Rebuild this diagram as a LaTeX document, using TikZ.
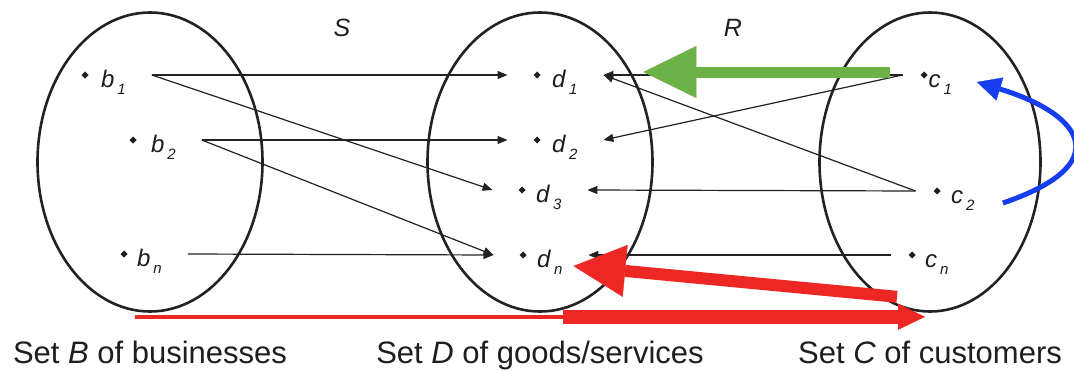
\documentclass[tikz,border=0pt]{standalone}
\usepackage{fontspec}
\setmainfont{Liberation Sans}
\usepackage{graphicx}
\usetikzlibrary{shapes.geometric,arrows.meta}

\definecolor{ink}{HTML}{222222}
\definecolor{txt}{HTML}{1E1E1E}
\definecolor{flowgreen}{RGB}{108,178,72}
\definecolor{flowred}{RGB}{237,40,36}
\definecolor{flowblue}{RGB}{22,62,240}

% small diamond marker, centred 12pt above the baseline
\newcommand\dotmark{\raisebox{9.5pt}{\rotatebox[origin=c]{45}{\rule{5pt}{5pt}}}}
% italic subscript
\newcommand\isub[1]{\kern3pt\raisebox{-7pt}{\fontsize{15}{15}\selectfont\itshape #1}}
% element of a set: marker, gap, letter, index, trailing space
\newcommand\elem[4][0pt]{\dotmark\hspace{#2}\textit{#3}\isub{#4}\hspace{#1}}

\tikzset{
  setell/.style={ellipse, draw=ink, line width=2.6pt, inner sep=0pt,
    minimum height=299pt},
  elem/.style={inner sep=0pt, outer ysep=0pt, text height=24pt, text depth=0pt,
    anchor=west, text=txt, font=\fontsize{24}{28}\selectfont},
  belem/.style={elem, outer xsep=26pt},
  delem/.style={elem, outer xsep=26pt},
  celem/.style={elem, outer xsep=18pt},
  link/.style={draw=ink, line width=1.2pt, -{Triangle[length=10pt,width=8pt]}},
  greenflow/.style={draw=flowgreen, line width=11pt,
    -{Triangle[length=53pt,width=52pt,line width=0.4pt]}},
  redflow/.style={draw=flowred, line width=12pt,
    -{Triangle[length=52pt,width=52pt,line width=0.4pt]}},
  redthin/.style={draw=flowred, line width=3.5pt},
  redbar/.style={draw=flowred, line width=14pt,
    -{Triangle[length=27pt,width=26pt,line width=0.4pt]}},
  blueflow/.style={draw=flowblue, line width=5pt,
    -{Triangle[length=24pt,width=24pt,line width=0.4pt]}},
  rel/.style={text=txt, font=\fontsize{25}{30}\selectfont\itshape},
  caption/.style={anchor=base, text=txt, font=\fontsize{31}{36}\selectfont},
}

\begin{document}
\begin{tikzpicture}[x=1pt,y=-1pt]
  \useasboundingbox[fill=white] (0,0) rectangle (1074,372);

  % the three sets
  \node[setell, minimum width=225pt] (B) at (150,162) {};
  \node[setell, minimum width=225pt] (D) at (540,162) {};
  \node[setell, minimum width=221pt] (C) at (930,162) {};

  % elements
  \node[belem] (b1) at (55.5,75)  {\elem{12.5pt}{b}{1}};
  \node[belem] (b2) at (103.5,140) {\elem{14.5pt}{b}{2}};
  \node[belem] (bn) at (94.5,254) {\elem{9.5pt}{b}{n}};

  \node[delem] (d1) at (507.5,75)  {\elem[4pt]{11.5pt}{d}{1}};
  \node[delem] (d2) at (507.5,140) {\elem[4pt]{11.5pt}{d}{2}};
  \node[delem] (d3) at (492.5,190) {\elem[4pt]{10.5pt}{d}{3}};
  \node[delem] (dn) at (493.5,255) {\elem[4pt]{10.5pt}{d}{n}};

  \node[celem] (c1) at (902.5,75)  {\elem{1pt}{c}{1}};
  \node[celem] (c2) at (915.5,191) {\elem{10.5pt}{c}{2}};
  \node[celem] (cn) at (890.5,255) {\elem{9.5pt}{c}{n}};

  % relation S : B -> D
  \draw[link] (b1.east) -- (d1.west);
  \draw[link] (b1.east) -- (d3.west);
  \draw[link] (b2.east) -- (d2.west);
  \draw[link] (b2.east) -- (dn.west);
  \draw[link] (bn.east) -- (dn.west);

  % relation R : C -> D
  \draw[link] (c1.west) -- (d1.east);
  \draw[link] (c1.west) -- (d2.east);
  \draw[link] (c2.west) -- (d1.east);
  \draw[link] (c2.west) -- (d3.east);
  \draw[link] (cn.west) -- (dn.east);

  % highlighted flows
  \draw[greenflow] ([xshift=-12.5pt,yshift=3pt]c1.west) -- ([xshift=40pt,yshift=3pt]d1.east);
  \draw[redflow] ([xshift=-33pt,yshift=16pt]C.south) -- ([xshift=-15pt,yshift=-11pt]dn.east);
  \draw[redthin] ([xshift=-15pt,yshift=-4pt]B.south) -- ([xshift=23pt,yshift=-4pt]D.south);
  \draw[redbar] ([xshift=23pt,yshift=-4pt]D.south) -- ([xshift=-5pt,yshift=-4pt]C.south);
  \draw[blueflow] ([xshift=10.5pt,yshift=-12pt]c2.east)
    .. controls (1115,165) and (1085,115) .. ([xshift=7pt,yshift=-7pt]c1.east);

  % relation names
  \node[rel] (S) at (342,28) {S};
  \node[rel] (R) at (733,28) {R};

  % set captions
  \node[caption] (capB) at (150,363) {Set \textit{B} of businesses};
  \node[caption] (capD) at (540,363) {Set \textit{D} of goods/services};
  \node[caption] (capC) at (930,363) {Set \textit{C} of customers};
\end{tikzpicture}
\end{document}
